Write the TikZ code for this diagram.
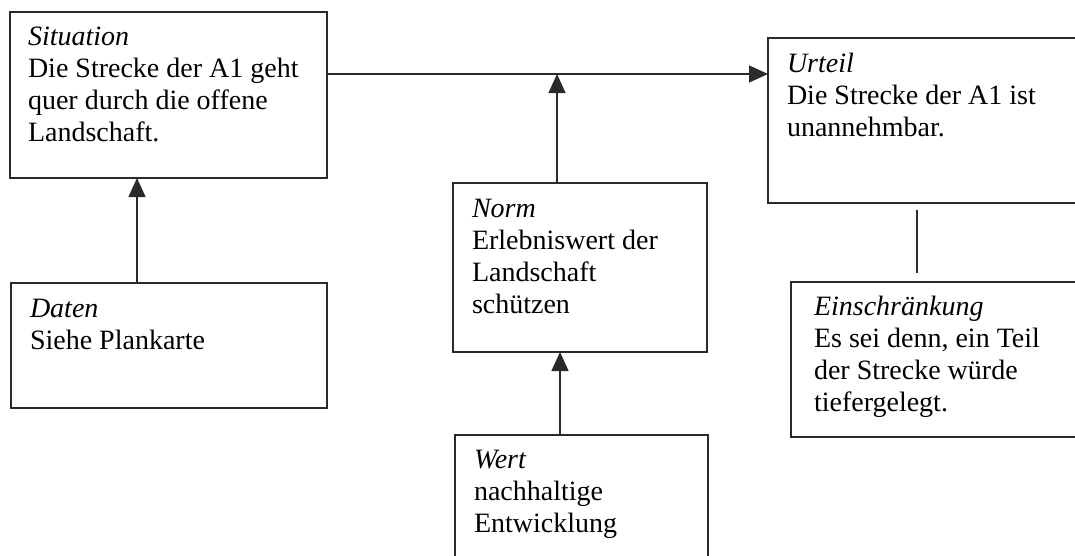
\documentclass[tikz,border=0pt]{standalone}
\usepackage{fontspec}
\setmainfont{Liberation Serif}
\usetikzlibrary{arrows.meta}
\definecolor{ink}{HTML}{2A2A2A}
\begin{document}
\begin{tikzpicture}[x=1pt,y=-1pt,
  box/.style={draw=ink, line width=1.3pt, inner sep=0pt, outer sep=0pt, anchor=north west},
  txt/.style={inner sep=0pt, outer sep=0pt, anchor=base west, text=black, font=\fontsize{28}{32}\selectfont},
  arr/.style={draw=ink, line width=1.3pt, -{Triangle[width=17pt,length=19pt]}},
  plain/.style={draw=ink, line width=1.3pt}]
\useasboundingbox (0,0) rectangle (1075,555);
\clip (0,0) rectangle (1075,555);
% boxes
\node[box, minimum width=317, minimum height=166] (sit) at (10,12) {};
\node[box, minimum width=316, minimum height=125] (dat) at (11,283) {};
\node[box, minimum width=254, minimum height=169] (norm) at (453,183) {};
\node[box, minimum width=253, minimum height=140] (wert) at (455,435) {};
\node[box, minimum width=330, minimum height=165] (urt) at (768,38) {};
\node[box, minimum width=310, minimum height=155] (ein) at (791,282) {};
% texts
\node[txt] (sitt) at (28,45) {\begin{tabular}[t]{@{}l@{}}\textit{Situation}\\ Die Strecke der A1 geht\\ quer durch die offene\\ Landschaft.\end{tabular}};
\node[txt] (datt) at (30,317) {\begin{tabular}[t]{@{}l@{}}\textit{Daten}\\ Siehe Plankarte\end{tabular}};
\node[txt] (normt) at (472,217) {\begin{tabular}[t]{@{}l@{}}\textit{Norm}\\ Erlebniswert der\\ Landschaft\\ schützen\end{tabular}};
\node[txt] (wertt) at (474,468) {\begin{tabular}[t]{@{}l@{}}\textit{Wert}\\ nachhaltige\\ Entwicklung\end{tabular}};
\node[txt] (urtt) at (787,72) {\begin{tabular}[t]{@{}l@{}}\textit{Urteil}\\ Die Strecke der A1 ist\\ unannehmbar.\end{tabular}};
\node[txt] (eint) at (814,315) {\begin{tabular}[t]{@{}l@{}}\textit{Einschränkung}\\ Es sei denn, ein Teil\\ der Strecke würde\\ tiefergelegt.\end{tabular}};
% helper coordinates
\coordinate (h) at (0,74);
\coordinate (dx) at (137,0);
\coordinate (nx) at (557,0);
\coordinate (wx) at (560,0);
\coordinate (ex) at (917,0);
% connectors
\draw[arr] (sit.east |- h) -- (urt.west |- h);
\draw[arr] (norm.north -| nx) -- (nx |- h);
\draw[arr] (dat.north -| dx) -- (sit.south -| dx);
\draw[arr] (wert.north -| wx) -- (norm.south -| wx);
\draw[plain, shorten <=7pt, shorten >=9pt] (urt.south -| ex) -- (ein.north -| ex);
\end{tikzpicture}
\end{document}
